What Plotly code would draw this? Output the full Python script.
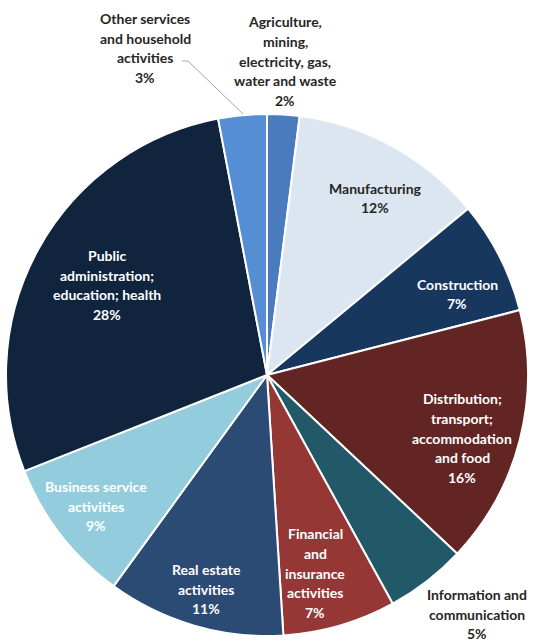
import plotly.graph_objects as go

# Share of output by industry (%)
sectors = [
    "Agriculture,<br>mining,<br>electricity, gas,<br>water and waste",
    "Manufacturing",
    "Construction",
    "Distribution;<br>transport;<br>accommodation<br>and food",
    "Information and<br>communication",
    "Financial<br>and<br>insurance<br>activities",
    "Real estate<br>activities",
    "Business service<br>activities",
    "Public<br>administration;<br>education; health",
    "Other services<br>and household<br>activities",
]
shares = [2, 12, 7, 16, 5, 7, 11, 9, 28, 3]

colors = ["#4a7bbf", "#dce6f1", "#17375e", "#632523", "#215968",
          "#953735", "#2b4a74", "#93cddd", "#10243e", "#558ed5"]
text_colors = ["#262626", "#262626", "white", "white", "#262626",
               "white", "white", "white", "white", "#262626"]
# label anchor points (pixels from top-left of the canvas)
label_xy = [(285, 61), (375, 198), (457, 294), (462, 438), (477, 614),
            (315, 573), (206, 589), (96, 506), (107, 285), (145, 48)]

W, H = 533, 644
cx, cy, r = 267, 375, 261

fig = go.Figure(go.Pie(
    labels=[s.replace("<br>", " ") for s in sectors],
    values=shares,
    sort=False,
    direction="clockwise",
    rotation=0,
    marker=dict(colors=colors, line=dict(color="white", width=2)),
    textinfo="none",
    hoverinfo="label+percent",
    showlegend=False,
    domain=dict(x=[(cx - r) / W, (cx + r) / W],
                y=[(H - cy - r) / H, (H - cy + r) / H]),
))

line_gap = 19.6
font = dict(family="Lato", size=14)
for name, val, (lx, ly), tc in zip(sectors, shares, label_xy, text_colors):
    lines = name.split("<br>") + [f"{val}%"]
    n = len(lines)
    for i, t in enumerate(lines):
        yy = ly + (i - (n - 1) / 2) * line_gap
        fig.add_annotation(
            x=lx / W, y=1 - yy / H, xref="paper", yref="paper",
            text=f"<b>{t}</b>", showarrow=False,
            font=dict(color=tc, **font),
            xanchor="center", yanchor="middle",
        )

# leader line for the small "Other services" slice
fig.add_shape(type="line", xref="paper", yref="paper",
              x0=188 / W, y0=1 - 61 / H, x1=243 / W, y1=1 - 114 / H,
              line=dict(color="#a6a6a6", width=1))
fig.add_shape(type="line", xref="paper", yref="paper",
              x0=182 / W, y0=1 - 61 / H, x1=188 / W, y1=1 - 61 / H,
              line=dict(color="#a6a6a6", width=1))

fig.update_layout(
    width=W, height=H,
    margin=dict(l=0, r=0, t=0, b=0),
    paper_bgcolor="white",
    plot_bgcolor="white",
)

fig.write_html("out.html")
